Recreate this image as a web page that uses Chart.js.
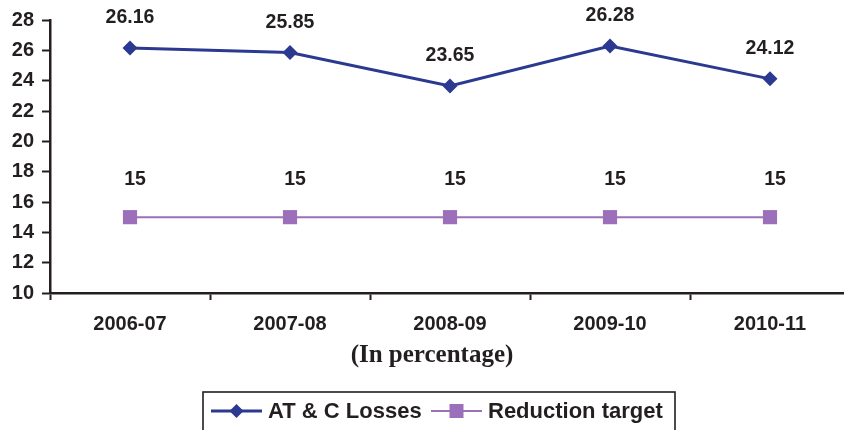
<!DOCTYPE html>
<html>
<head>
<meta charset="utf-8">
<script src="https://cdn.jsdelivr.net/npm/chart.js@4"></script>
<style>
  html, body { margin: 0; padding: 0; background: #fff; overflow: hidden; }
  #c { display: block; }
</style>
</head>
<body>
<canvas id="c" width="860" height="430"></canvas>
<script>
// Financial years on the category axis
const years = ['2006-07', '2007-08', '2008-09', '2009-10', '2010-11'];
// AT & C losses per year (%)
const atcLosses = [26.16, 25.85, 23.65, 26.28, 24.12];
// Reduction target per year (%)
const reductionTarget = [15, 15, 15, 15, 15];
// Value axis range and step
const yMin = 10, yMax = 28, yStep = 2;
const seriesNames = ['AT & C Losses', 'Reduction target'];
const axisTitle = '(In percentage)';

const INK = '#231F20';
const BLUE = '#2B3990';
const PURPLE = '#9B6FBA';
const SANS = '"Liberation Sans", Arial, Helvetica, sans-serif';
const SERIF = '"Liberation Serif", "Times New Roman", serif';

// Value labels above each marker, title under the axis, and a boxed legend
const decorations = {
  id: 'decorations',
  afterDatasetsDraw(chart) {
    const ctx = chart.ctx;
    const area = chart.chartArea;
    ctx.save();
    ctx.fillStyle = INK;
    ctx.font = 'bold 19.5px ' + SANS;
    ctx.textAlign = 'center';
    ctx.textBaseline = 'middle';
    const lift = [30, 38];
    const shift = [0, 5];
    chart.data.datasets.forEach((ds, i) => {
      const meta = chart.getDatasetMeta(i);
      meta.data.forEach((pt, j) => {
        ctx.fillText(String(ds.data[j]), pt.x + shift[i], pt.y - lift[i]);
      });
    });

    // axis title
    ctx.font = 'bold 25px ' + SERIF;
    ctx.fillText(axisTitle, 432, area.bottom + 63);

    // legend box
    const boxL = 203, boxR = 675, boxT = area.bottom + 99;
    ctx.strokeStyle = INK;
    ctx.lineWidth = 1.6;
    ctx.strokeRect(boxL, boxT, boxR - boxL, 60);

    const rowY = boxT + 19;
    ctx.font = 'bold 22px ' + SANS;
    ctx.textAlign = 'left';
    const items = [
      { x: 211, color: BLUE, width: 3, style: 'diamond', text: chart.data.datasets[0].label },
      { x: 431, color: PURPLE, width: 2, style: 'square', text: chart.data.datasets[1].label }
    ];
    items.forEach(it => {
      ctx.strokeStyle = it.color;
      ctx.lineWidth = it.width;
      ctx.beginPath();
      ctx.moveTo(it.x, rowY);
      ctx.lineTo(it.x + 51, rowY);
      ctx.stroke();
      const cx = it.x + 25.5;
      ctx.fillStyle = it.color;
      ctx.beginPath();
      if (it.style === 'diamond') {
        ctx.moveTo(cx, rowY - 7); ctx.lineTo(cx + 7, rowY);
        ctx.lineTo(cx, rowY + 7); ctx.lineTo(cx - 7, rowY);
        ctx.closePath();
      } else {
        ctx.rect(cx - 7, rowY - 7, 14, 14);
      }
      ctx.fill();
      ctx.fillStyle = INK;
      ctx.fillText(it.text, it.x + 57, rowY + 1);
    });
    ctx.restore();
  }
};

new Chart(document.getElementById('c'), {
  type: 'line',
  data: {
    labels: years,
    datasets: [
      {
        label: seriesNames[0],
        data: atcLosses,
        borderColor: BLUE,
        backgroundColor: BLUE,
        borderWidth: 3,
        pointStyle: 'rectRot',
        pointRadius: 7.5,
        pointHoverRadius: 7.5,
        pointBorderWidth: 0,
        tension: 0
      },
      {
        label: seriesNames[1],
        data: reductionTarget,
        borderColor: PURPLE,
        backgroundColor: PURPLE,
        borderWidth: 2,
        pointStyle: 'rect',
        pointRadius: 10,
        pointHoverRadius: 10,
        pointBorderWidth: 0,
        tension: 0
      }
    ]
  },
  options: {
    responsive: false,
    animation: false,
    events: [],
    layout: { padding: { top: 20, left: 0, right: 0, bottom: 0 } },
    plugins: {
      legend: { display: false },
      tooltip: { enabled: false }
    },
    scales: {
      x: {
        offset: true,
        afterFit(scale) {
          scale.height = 137;
          scale.paddingLeft = 0;
          scale.paddingRight = 0;
        },
        grid: {
          display: true,
          offset: true,
          drawOnChartArea: false,
          drawTicks: true,
          tickLength: 7,
          tickWidth: 2,
          tickColor: INK
        },
        border: { display: true, color: INK, width: 2.5 },
        ticks: {
          color: INK,
          font: { family: SANS, size: 20, weight: 'bold' },
          padding: 12,
          maxRotation: 0
        }
      },
      y: {
        min: yMin,
        max: yMax,
        afterFit(scale) {
          scale.width = 50;
          scale.paddingTop = 0;
          scale.paddingBottom = 0;
        },
        grid: {
          display: true,
          drawOnChartArea: false,
          drawTicks: true,
          tickLength: 8,
          tickWidth: 2,
          tickColor: INK
        },
        border: { display: true, color: INK, width: 2.5 },
        ticks: {
          stepSize: yStep,
          color: INK,
          font: { family: SANS, size: 20, weight: 'bold' },
          padding: 8
        }
      }
    }
  },
  plugins: [decorations]
});
</script>
</body>
</html>
